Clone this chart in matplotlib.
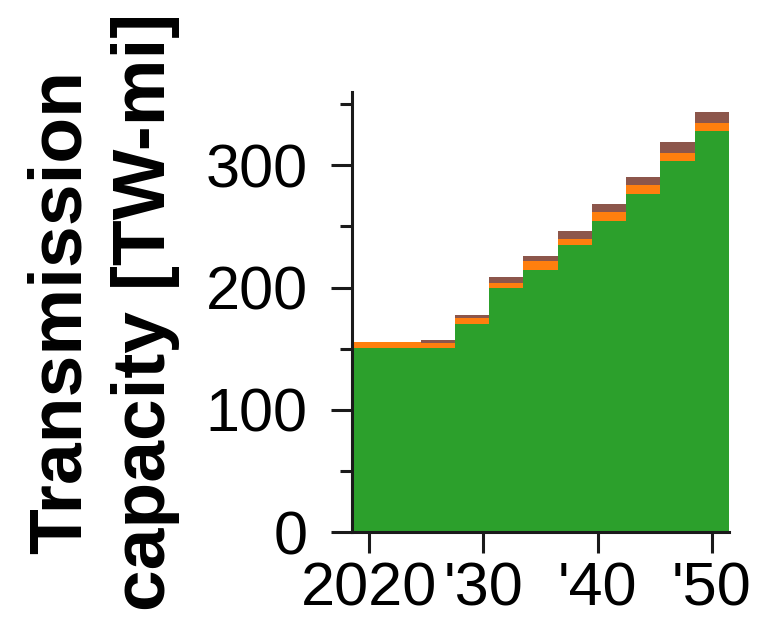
import numpy as np
import matplotlib
matplotlib.use('Agg')
import matplotlib.pyplot as plt
from matplotlib.ticker import MultipleLocator

plt.rcParams['font.family'] = ['Liberation Sans', 'DejaVu Sans']

# model years (each step is a 3-year period)
years = [2020, 2023, 2026, 2029, 2032, 2035, 2038, 2041, 2044, 2047, 2050]
# stacked layers, TW-mi
existing = [150.2, 150.2, 150.2, 170.2, 199.4, 214.5, 234.7, 254.6, 276.8, 303.8, 328.1]
added_a = [5.0, 5.0, 4.2, 5.2, 4.7, 7.4, 4.9, 7.1, 6.8, 6.6, 6.6]
added_b = [0.0, 0.0, 3.0, 2.2, 4.4, 4.3, 6.3, 6.3, 6.6, 8.5, 9.0]

xticks = [2020, 2030, 2040, 2050]
xticklabels = ['2020', "'30", "'40", "'50"]

layers = [existing, added_a, added_b]
colors = ['#2ca02c', '#ff7f0e', '#8c564b']

fig = plt.figure(figsize=(7.73, 6.27), dpi=100)
ax = fig.add_axes([0.4554, 0.1515, 0.4877, 0.7018])

yrs = np.array(years)
edges = np.concatenate([yrs - 1.5, [yrs[-1] + 1.5]])
base = np.zeros(len(years))
for vals, c in zip(layers, colors):
    vals = np.array(vals)
    ax.stairs(base + vals, edges, baseline=base, fill=True, color=c, linewidth=0)
    base = base + vals

ax.set_xlim(edges[0], edges[-1])
ax.set_ylim(0, 360)
ax.set_xticks(xticks)
ax.set_xticklabels(xticklabels)
ax.set_yticks([0, 100, 200, 300])
ax.yaxis.set_minor_locator(MultipleLocator(50))

for s in ['top', 'right']:
    ax.spines[s].set_visible(False)
for s in ['left', 'bottom']:
    ax.spines[s].set_linewidth(2.2)
    ax.spines[s].set_color('#1a1a1a')
    ax.spines[s].set_zorder(5)

ax.tick_params(axis='both', which='both', color='#1a1a1a')
ax.tick_params(axis='both', which='major', length=15, width=2.2, labelsize=44)
ax.tick_params(axis='y', which='minor', length=8.5, width=2.2)
ax.tick_params(axis='y', which='major', pad=17)
ax.tick_params(axis='x', which='major', pad=6)

ax.set_ylabel('Transmission\ncapacity [TW-mi]', fontsize=54, fontweight='bold',
              linespacing=1.3, labelpad=18)

fig.savefig('out.png', dpi=100)
